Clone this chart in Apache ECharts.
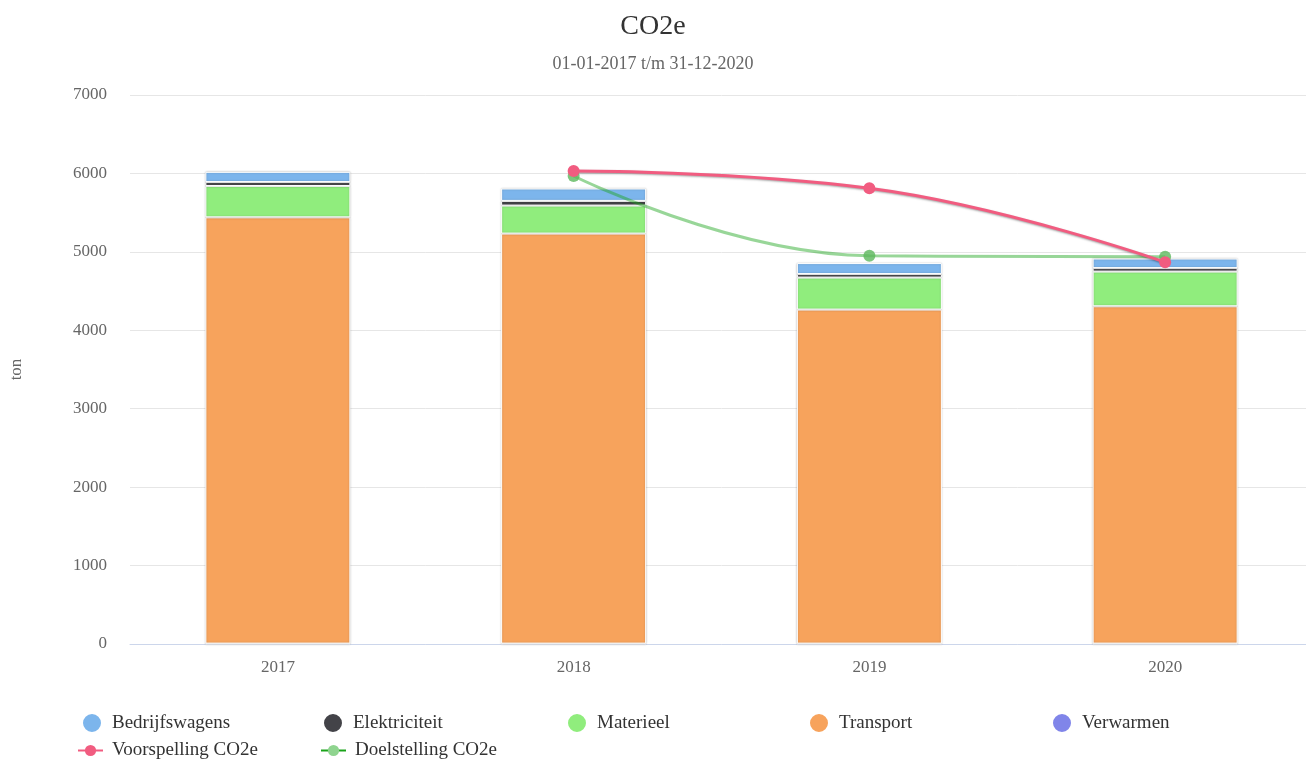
<!DOCTYPE html>
<html>
<head>
<meta charset="utf-8">
<script src="https://cdn.jsdelivr.net/npm/echarts@6/dist/echarts.min.js"></script>
<style>
html,body{margin:0;padding:0;background:#fff;overflow:hidden;width:1306px;height:761px;}
#chart{width:1314px;height:761px;}
</style>
</head>
<body>
<div id="chart"></div>
<script>
var categories = ['2017', '2018', '2019', '2020'];
var bedrijfswagens = [130, 158, 140, 122];
var elektriciteit = [50, 60, 45, 45];
var materieel = [400, 357, 408, 442];
var transport = [5435, 5228, 4259, 4301];
var verwarmen = [5, 5, 5, 5];
var voorspelling = [null, 6031, 5812, 4868];
var doelstelling = [null, 5967, 4951, 4938];
var yTicks = {min: 0, max: 7000, interval: 1000};

var FONT = '"Liberation Serif", "Times New Roman", serif';
var chart = echarts.init(document.getElementById('chart'), null, {renderer: 'canvas'});

function barSeries(name, data, color) {
  return {
    name: name, type: 'bar', stack: 'total', data: data, barWidth: 145,
    itemStyle: {color: color, borderColor: '#ffffff', borderWidth: 1,
      shadowColor: 'rgba(0,0,0,0.22)', shadowBlur: 2},
    emphasis: {disabled: true}, z: 2
  };
}

function legendItem(name, left, top, isLine, extra) {
  var l = {
    data: [isLine ? {name: name} : {name: name, icon: 'circle'}],
    left: left, top: top, orient: 'horizontal', padding: 0,
    itemWidth: isLine ? 25 : 20, itemHeight: isLine ? 14 : 20,
    selectedMode: false,
    textStyle: {fontFamily: FONT, fontSize: 19, color: '#333333', padding: [0, 0, 0, isLine ? 4 : 5]}
  };
  if (extra) { for (var k in extra) l[k] = extra[k]; }
  return l;
}

var option = {
  animation: false,
  backgroundColor: '#ffffff',
  title: {
    text: 'CO2e', subtext: '01-01-2017 t/m 31-12-2020', left: 653, textAlign: 'center', top: 13, itemGap: 14, padding: 0,
    textStyle: {fontFamily: FONT, fontSize: 28, fontWeight: 'normal', color: '#333333'},
    subtextStyle: {fontFamily: FONT, fontSize: 18, color: '#666666'}
  },
  legend: [
    legendItem('Bedrijfswagens', 81, 712, false),
    legendItem('Elektriciteit', 322, 712, false),
    legendItem('Materieel', 566, 712, false),
    legendItem('Transport', 808, 712, false),
    legendItem('Verwarmen', 1051, 712, false),
    legendItem('Voorspelling CO2e', 77, 741, true),
    legendItem('Doelstelling CO2e', 320, 741, true, {
      lineStyle: {color: '#1aa31a', opacity: 1},
      itemStyle: {color: '#8fd48f', opacity: 1}
    })
  ],
  grid: {left: 128, top: 95, width: 1185, height: 549, containLabel: false},
  xAxis: {
    type: 'category', data: categories,
    axisLine: {lineStyle: {color: '#ccd6eb', width: 1}},
    axisTick: {show: false},
    axisLabel: {fontFamily: FONT, fontSize: 17, color: '#666666', margin: 15}
  },
  yAxis: {
    type: 'value', min: yTicks.min, max: yTicks.max, interval: yTicks.interval,
    name: 'ton', nameLocation: 'middle', nameGap: 105, nameRotate: 90,
    nameTextStyle: {fontFamily: FONT, fontSize: 17, color: '#666666'},
    axisLine: {show: false}, axisTick: {show: false},
    axisLabel: {fontFamily: FONT, fontSize: 17, color: '#666666', margin: 23,
      formatter: function (v) { return String(v); }},
    splitLine: {lineStyle: {color: '#e6e6e6', width: 1}}
  },
  series: [
    barSeries('Verwarmen', verwarmen, '#8085e9'),
    barSeries('Transport', transport, '#f7a35c'),
    barSeries('Materieel', materieel, '#90ed7d'),
    barSeries('Elektriciteit', elektriciteit, '#434348'),
    barSeries('Bedrijfswagens', bedrijfswagens, '#7cb5ec'),
    {
      name: 'Doelstelling CO2e', type: 'line', data: doelstelling, smooth: 0.45,
      symbol: 'circle', symbolSize: 12, z: 5,
      lineStyle: {color: '#1aa31a', width: 3, opacity: 0.45},
      itemStyle: {color: '#5cb85c', opacity: 0.8},
      emphasis: {disabled: true}
    },
    {
      name: 'Voorspelling CO2e', type: 'line', data: voorspelling, smooth: 0.45,
      symbol: 'circle', symbolSize: 12, z: 6,
      lineStyle: {color: '#f15c80', width: 3, shadowColor: 'rgba(0,0,0,0.35)', shadowBlur: 2, shadowOffsetY: 1},
      itemStyle: {color: '#f15c80'},
      emphasis: {disabled: true}
    }
  ]
};
chart.setOption(option);
</script>
</body>
</html>
